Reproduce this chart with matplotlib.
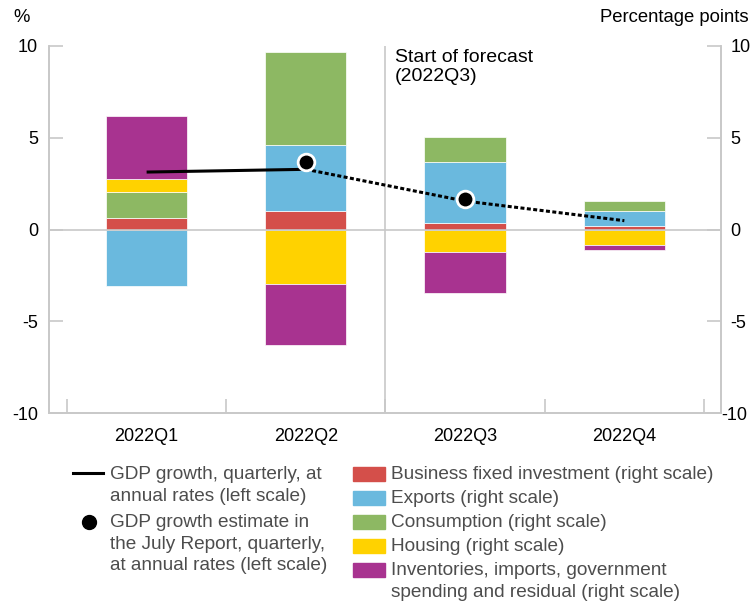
import numpy as np
import matplotlib
matplotlib.use("Agg")
import matplotlib.pyplot as plt
import matplotlib.transforms as mtrans
from matplotlib.lines import Line2D
from matplotlib.patches import Rectangle

plt.rcParams['font.family'] = ['Liberation Sans', 'DejaVu Sans']
plt.rcParams['axes.unicode_minus'] = False

quarters = ['2022Q1', '2022Q2', '2022Q3', '2022Q4']

# contributions, percentage points (right scale)
bfi = [0.63, 1.03, 0.37, 0.21]
exports = [-3.08, 3.57, 3.29, 0.80]
consumption = [1.43, 5.05, 1.36, 0.54]
housing = [0.69, -2.97, -1.24, -0.84]
other = [3.45, -3.32, -2.24, -0.26]

# GDP growth, % (left scale)
gdp = [3.13, 3.28, 1.55, 0.48]
july_q = [1, 2]
july_est = [3.66, 1.68]

series = [bfi, exports, consumption, housing, other]
colors = ['#D44F4A', '#6AB9DE', '#8DB863', '#FFD200', '#A83390']
bar_labels = ['Business fixed investment (right scale)',
              'Exports (right scale)',
              'Consumption (right scale)',
              'Housing (right scale)',
              'Inventories, imports, government\nspending and residual (right scale)']
line_labels = ['GDP growth, quarterly, at\nannual rates (left scale)',
               'GDP growth estimate in\nthe July Report, quarterly,\nat annual rates (left scale)']

W, H = 752, 602
fig = plt.figure(figsize=(W / 100, H / 100), dpi=100)
ax = fig.add_axes([49 / W, 1 - 413 / H, (721 - 49) / W, (413 - 46) / H])
ax2 = ax.twinx()

x = np.arange(len(quarters))
pos = np.zeros(len(x))
neg = np.zeros(len(x))
for vals, c in zip(series, colors):
    v = np.array(vals)
    base = np.where(v >= 0, pos, neg)
    ax2.bar(x, v, 0.51, bottom=base, color=c, edgecolor='white', linewidth=0.5, zorder=2)
    pos = np.where(v >= 0, pos + v, pos)
    neg = np.where(v < 0, neg + v, neg)

grey = '#c8c8c8'
for a in (ax, ax2):
    a.set_ylim(-10, 10)
    a.set_xlim(-0.613, 3.607)
    a.set_yticks([-10, -5, 0, 5, 10])
    for s in a.spines.values():
        s.set_color(grey)
        s.set_linewidth(1.2)
    a.spines['top'].set_visible(False)
    a.tick_params(axis='y', direction='in', length=10, color=grey, width=1.2,
                  labelsize=13, pad=8)
ax2.tick_params(axis='y', pad=7)
# bottom right label is pulled in so it fits the image
lab = ax2.get_yticklabels()[0]
lab.set_transform(lab.get_transform() + mtrans.ScaledTranslation(-0.09, 0, fig.dpi_scale_trans))

ax.axhline(0, color=grey, lw=1.2, zorder=1)
ax.axvline(1.5, color=grey, lw=1.2, zorder=1)

ax.set_xticks(np.arange(-0.5, 4, 1))
ax.set_xticklabels([])
ax.set_xticks(x, minor=True)
ax.set_xticklabels(quarters, minor=True, fontsize=13)
ax.tick_params(axis='x', which='major', direction='in', length=10, color=grey, width=1.2)
ax.tick_params(axis='x', which='minor', length=0, pad=11)

ax.set_zorder(ax2.get_zorder() + 1)
ax.patch.set_visible(False)

ax.plot(x[:2], gdp[:2], color='black', lw=2.2, zorder=5, solid_capstyle='butt')
ax.plot(x[1:], gdp[1:], color='black', lw=2.2, ls=(0, (1.3, 0.8)), zorder=5)
ax.plot(july_q, july_est, 'o', color='black', ms=12, mec='white', mew=2, zorder=6)

ax.text(1.56, 9.85, 'Start of forecast\n(2022Q3)', fontsize=14, va='top', ha='left',
        linespacing=1.2)
fig.text(22 / W, 1 - 18 / H, '%', fontsize=13.3, ha='center', va='center')
fig.text(749 / W, 1 - 18 / H, 'Percentage points', fontsize=13.3, ha='right', va='center')

# legend
tc = '#4d4d4d'
fs = 13.7
ys = [474, 522]
fig.add_artist(Line2D([73 / W, 103 / W], [1 - 473 / H] * 2, color='black', lw=2.2))
fig.add_artist(Line2D([89 / W], [1 - 522 / H], marker='o', color='black', ms=10, ls='none'))
for y, lab in zip(ys, line_labels):
    fig.text(110 / W, 1 - (y - 8) / H, lab, fontsize=fs, color=tc, va='top', ha='left',
             linespacing=1.36)
rys = [474, 498, 522, 546, 570]
for y, c, lab in zip(rys, colors, bar_labels):
    fig.add_artist(Rectangle((353 / W, 1 - (y + 7) / H), 32 / W, 14 / H, color=c))
    fig.text(391 / W, 1 - (y - 8) / H, lab, fontsize=fs, color=tc, va='top', ha='left',
             linespacing=1.36)

fig.savefig('out.png', dpi=100)
